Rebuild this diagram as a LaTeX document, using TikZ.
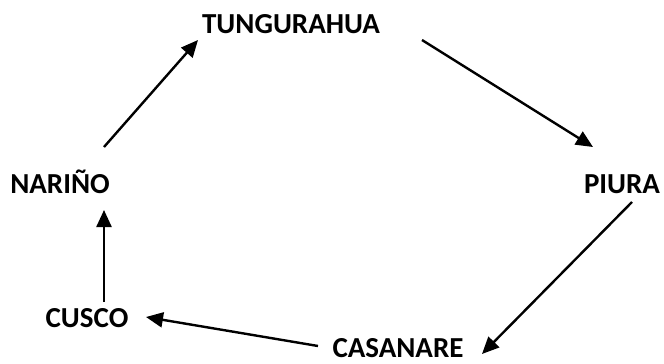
\documentclass[tikz,border=0pt]{standalone}
\usepackage{fontspec}
\setmainfont{Carlito}
\usetikzlibrary{arrows.meta}
\begin{document}
\begin{tikzpicture}[x=1pt,y=-1pt,
  place/.style={font=\fontsize{29}{30}\selectfont\bfseries, inner sep=0pt, text depth=0pt, anchor=base},
  flow/.style={line width=2.4pt, -{Triangle[length=17pt,width=15pt]}}]
  \useasboundingbox (0,0) rectangle (664,364);
  % places around the cycle
  \node[place] (tung) at (291,33) {TUNGURAHUA};
  \node[place] (piura) at (622,193) {PIURA};
  \node[place] (casa) at (398,357) {CASANARE};
  \node[place] (cusco) at (87,327) {CUSCO};
  \node[place] (narino) at (60,193) {NARIÑO};
  % arrow end points
  \coordinate (a1) at (104,147); \coordinate (b1) at (198,40);
  \coordinate (a2) at (422,40);  \coordinate (b2) at (593,147);
  \coordinate (a3) at (632,202); \coordinate (b3) at (482,354);
  \coordinate (a4) at (318,346); \coordinate (b4) at (146,317);
  \coordinate (a5) at (104,302); \coordinate (b5) at (104,210);
  \draw[flow] (a1) -- (b1);
  \draw[flow] (a2) -- (b2);
  \draw[flow] (a3) -- (b3);
  \draw[flow] (a4) -- (b4);
  \draw[flow] (a5) -- (b5);
\end{tikzpicture}
\end{document}
